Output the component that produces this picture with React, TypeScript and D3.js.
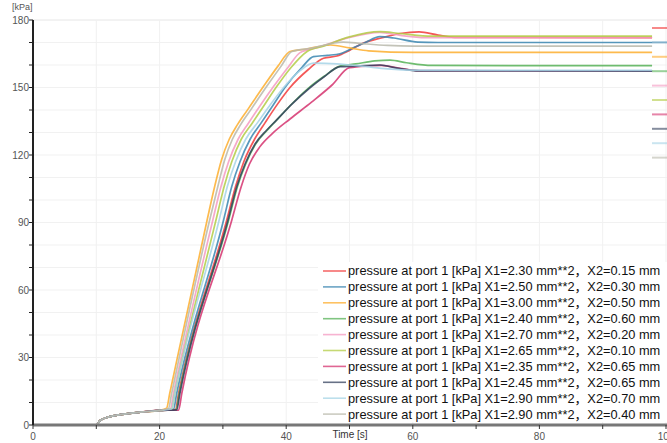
import React from "react";
import * as d3 from "d3";

// legend labels (same order as the colours below)
const labels = [
  "X1=2.30 mm**2，X2=0.15 mm",
  "X1=2.50 mm**2，X2=0.30 mm",
  "X1=3.00 mm**2，X2=0.50 mm",
  "X1=2.40 mm**2，X2=0.60 mm",
  "X1=2.70 mm**2，X2=0.20 mm",
  "X1=2.65 mm**2，X2=0.10 mm",
  "X1=2.35 mm**2，X2=0.65 mm",
  "X1=2.45 mm**2，X2=0.65 mm",
  "X1=2.90 mm**2，X2=0.70 mm",
  "X1=2.90 mm**2，X2=0.40 mm",
];
const colors = [
  "#f23a3a", "#3a86b0", "#fdae2e", "#56b257", "#f49ac1",
  "#b3cc45", "#d5336f", "#34415e", "#a6d4e6", "#b9b9ab",
];

// shared start of every run: [time s, pressure kPa]
const startPts: [number, number][] = [
  [0, 0], [10, 0], [10.6, 2], [12, 3.6], [14, 4.7], [17, 5.7], [20, 6.5],
];

const red: [number, number][] = [[22.5, 6.9], [23, 14], [30.6, 91], [32, 106], [33.3, 117], [35, 127], [36.7, 134.5], [38.6, 142.5], [40.6, 150], [43.5, 158], [45.9, 163], [48, 164], [50, 166.5], [52, 169.5], [55, 172], [58, 174], [61, 174.7], [64, 173.3], [67, 172.3], [97.8, 172.2]];
const blue: [number, number][] = [[22.2, 7.0], [22.7, 14], [30.1, 91], [31.4, 106], [32.7, 117], [34.3, 127], [36.1, 134.5], [37.9, 142], [39.8, 150], [42.5, 159], [44.3, 163.7], [46.5, 164.3], [48.5, 165], [50.5, 167.5], [52.5, 170], [54.8, 172.6], [57, 172], [60.8, 170.2], [64, 170], [97.8, 170]];
const orange: [number, number][] = [[21.1, 7.4], [21.6, 14], [27.5, 91], [28.7, 106], [29.8, 118], [31, 127], [32.3, 133.5], [34, 140.5], [36.4, 150.4], [38.7, 159.5], [40.6, 166], [43, 167], [47, 168.9], [50, 167.6], [53, 166.3], [60, 165.6], [97.8, 165.6]];
const green: [number, number][] = [[22.6, 6.8], [23.1, 14], [30.9, 91], [32.3, 106], [33.6, 116], [35.2, 125], [37, 131], [38.5, 135.6], [41, 143], [43.8, 150.4], [46, 155], [48.5, 159.5], [51, 160.5], [54, 161.8], [56.4, 162.2], [59, 161], [63, 159.8], [97.8, 159.7]];
const pink: [number, number][] = [[21.7, 7.2], [22.2, 14], [28.4, 91], [29.7, 106], [30.9, 117], [32.4, 127], [34, 134], [35.9, 142], [38, 150.4], [40.3, 159], [42.2, 165.5], [45, 167.8], [50, 172.3], [54.8, 174.5], [58, 173.2], [62, 172.2], [97.8, 172.2]];
const yellowGreen: [number, number][] = [[21.9, 7.1], [22.4, 14], [28.9, 91], [30.2, 106], [31.4, 117], [32.9, 127], [34.6, 134], [36.5, 142], [38.5, 150.4], [40.8, 159], [43.3, 166], [46, 168.5], [50, 172.5], [54.8, 174.8], [58, 174], [63, 172.8], [97.8, 172.8]];
const crimson: [number, number][] = [[23.0, 6.6], [23.5, 14], [31.4, 91], [32.9, 106], [34.2, 116], [35.8, 123.5], [37.8, 129.5], [40.6, 136], [44, 143.5], [47.2, 151], [50, 158.8], [53, 159.6], [55, 159.8], [58, 158.5], [61, 157.5], [97.8, 157.3]];
const navy: [number, number][] = [[22.7, 6.7], [23.2, 14], [30.8, 91], [32.2, 106], [33.5, 116], [35.1, 125], [36.9, 131], [38.4, 135.3], [40.9, 142.6], [43.8, 150], [46, 154.8], [48.5, 159.3], [51, 159.5], [54.8, 160], [57.5, 158.6], [61, 157.4], [97.8, 157.3]];
const lightBlue: [number, number][] = [[21.9, 7.1], [22.4, 14], [29.4, 91], [30.7, 106], [32, 117], [33.6, 127], [35.5, 134.5], [37.4, 142], [39.6, 150], [42.2, 157.5], [44.3, 160.8], [48, 160.5], [52, 159.5], [56, 158.3], [60, 157.7], [97.8, 157.6]];
const gray: [number, number][] = [[21.4, 7.3], [21.9, 14], [27.9, 91], [29.2, 106], [30.3, 118], [31.5, 127], [32.8, 133.5], [34.5, 140.5], [36.9, 150.4], [39.2, 159.5], [40.9, 166], [44, 167.5], [49, 170.2], [52, 169.5], [56, 168.7], [60, 168.4], [97.8, 168.4]];

const series = [red, blue, orange, green, pink, yellowGreen, crimson, navy, lightBlue, gray];

const xTicks = [0, 20, 40, 60, 80, 100];
const yTicks = [0, 30, 60, 90, 120, 150, 180];

const W = 667, H = 443;

export default function App() {
  const x = d3.scaleLinear().domain([0, 100]).range([33, 666]);
  const y = d3.scaleLinear().domain([0, 180]).range([425, 20]);
  const line = d3.line<[number, number]>()
    .x(d => x(d[0]))
    .y(d => y(d[1]))
    .curve(d3.curveMonotoneX);

  const grid10x = d3.range(10, 101, 10);
  const grid10y = d3.range(0, 181, 10);
  const font = "'Liberation Sans', Arial, 'Noto Sans CJK SC', sans-serif";

  return (
    <svg width={W} height={H} style={{ position: "absolute", left: 0, top: 0 }} fontFamily={font}>
      <rect width={W} height={H} fill="#fff" />
      {/* grid */}
      {grid10y.map(v => (
        <line key={"gy" + v} x1={33} x2={W} y1={y(v)} y2={y(v)} stroke={v === 180 ? "#e6e6e6" : "#f1f1f1"} />
      ))}
      {grid10x.map(v => (
        <line key={"gx" + v} x1={x(v)} x2={x(v)} y1={20} y2={425} stroke="#f1f1f1" />
      ))}

      {/* curves */}
      {series.map((s, i) => (
        <path key={"s" + i} d={line(startPts.concat(s)) || ""} fill="none"
          stroke={colors[i]} strokeWidth={1.7} strokeOpacity={0.85} />
      ))}

      {/* axes */}
      <line x1={33} x2={W} y1={425} y2={425} stroke="#777" strokeWidth={3} />
      {grid10x.concat([0]).map(v => (
        <line key={"xt" + v} x1={x(v)} x2={x(v)} y1={425} y2={429} stroke="#333" />
      ))}
      {xTicks.map(v => (
        <text key={"xl" + v} x={x(v)} y={440} textAnchor="middle" fontSize={10} fill="#555">{v}</text>
      ))}
      <text x={350} y={438} textAnchor="middle" fontSize={10} fill="#333">Time [s]</text>

      <line x1={33} x2={33} y1={20} y2={425} stroke="#222" strokeWidth={2} />
      {grid10y.map(v => (
        <line key={"yt" + v} x1={29} x2={33} y1={y(v)} y2={y(v)} stroke="#222" />
      ))}
      {yTicks.map(v => (
        <text key={"yl" + v} x={29} y={y(v)} dy="0.35em" textAnchor="end" fontSize={10} fill="#555">{v}</text>
      ))}
      <text x={12} y={10} fontSize={9} fill="#555">[kPa]</text>

      {/* legend */}
      <rect x={318} y={262} width={W - 318} height={160} fill="#fff" />
      {labels.map((l, i) => {
        const ly = 271 + i * 15.9;
        return (
          <g key={"lg" + i}>
            <line x1={323} x2={346} y1={ly} y2={ly} stroke={colors[i]} strokeWidth={1.6} strokeOpacity={0.75} />
            <text x={348} y={ly} dy="0.35em" fontSize={12.8} fill="#111">{"pressure at port 1 [kPa] " + l}</text>
          </g>
        );
      })}

      {/* clipped second legend on the right edge */}
      {colors.map((c, i) => (
        <line key={"rl" + i} x1={652} x2={W} y1={28 + i * 14.4} y2={28 + i * 14.4} stroke={c} strokeWidth={2} strokeOpacity={0.6} />
      ))}
    </svg>
  );
}
